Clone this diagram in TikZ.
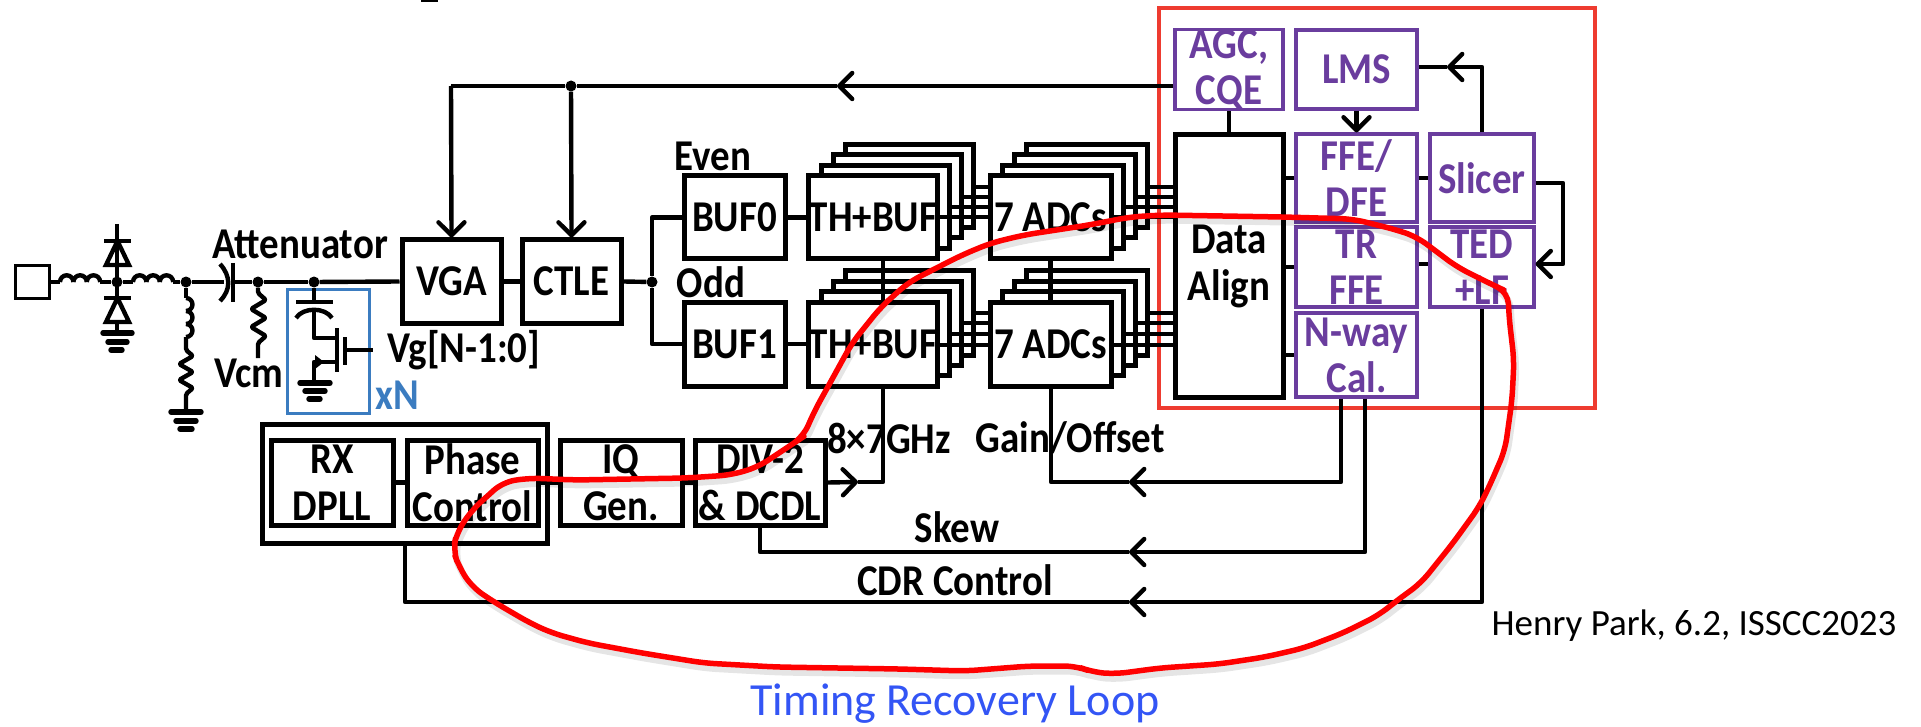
\documentclass[tikz,border=0pt]{standalone}
\usepackage{fontspec}
\setmainfont{Carlito}
\newfontfamily\tallf{Carlito}[FakeStretch=0.885]
\usetikzlibrary{arrows.meta}
\definecolor{pur}{HTML}{6A3D9E}
\definecolor{redbox}{HTML}{EE3B30}
\definecolor{bluebox}{HTML}{3B7CC0}
\definecolor{bluetxt}{HTML}{3355F5}
\tikzset{
  wire/.style={line width=4.4pt,line join=round,draw=black},
  tipped/.style={wire,-{Straight Barb[length=13pt,width=26pt,round]}},
  blk/.style={draw=black,line width=5pt,fill=white,inner sep=0pt,align=center,font=\tallf\fontsize{44}{47}\selectfont\bfseries},
  pbox/.style={draw=pur,line width=3.2pt,fill=white,inner sep=0pt,align=center,text=pur,font=\tallf\fontsize{44}{46}\selectfont\bfseries},
  lbl/.style={inner sep=0pt,align=center,font=\tallf\fontsize{44}{47}\selectfont\bfseries},
  dot/.style={circle,fill=black,inner sep=0pt,minimum size=11pt},
  gnd/.style={line width=5.4pt,line cap=round},
  rloop/.style={draw=red,line width=5.5pt,line join=round,line cap=round,rounded corners=12pt},
  rshadow/.style={draw=black,opacity=0.10,line width=7pt,line join=round,rounded corners=12pt},
}
\newcommand{\blkbox}[5]{\node[blk,minimum width=#3pt,minimum height=#4pt] (#1) at (#2) {#5};}
\newcommand{\stackbox}[6]{% name, cx, cy, w, h, text
  \node[blk,minimum width=#4pt,minimum height=#5pt] (#1c) at ({#2+36},{#3-31}) {};
  \node[blk,minimum width=#4pt,minimum height=#5pt] (#1b) at ({#2+24},{#3-21}) {};
  \node[blk,minimum width=#4pt,minimum height=#5pt] (#1a) at ({#2+12},{#3-10.5}) {};
  \node[blk,minimum width=#4pt,minimum height=#5pt] (#1) at (#2,#3) {#6};
}
\newcommand{\looppath}{(1512,400) -- (1514,360) -- (1509,317) -- (1508,292) -- (1493,285) -- (1457,267) -- (1417,237) -- (1397,230) -- (1353,219) -- (1283,217) -- (1162,215) -- (1130,217) -- (1089,225) -- (1024,235) -- (991,243) -- (962,255) -- (909,282) -- (881,307) -- (852,343) -- (830,383) -- (815,410) -- (803,437) -- (794,443) -- (758,467) -- (731,475) -- (686,478) -- (575,480) -- (530,478) -- (503,482) -- (472,510) -- (457,532) -- (453,550) -- (459,567) -- (472,587) -- (494,602) -- (530,623) -- (552,633) -- (588,643) -- (642,653) -- (704,663) -- (776,667) -- (900,669) -- (965,671) -- (1030,666) -- (1076,666) -- (1092,672) -- (1115,674) -- (1160,668) -- (1219,664) -- (1265,657) -- (1304,648) -- (1343,633) -- (1379,615) -- (1395,602) -- (1421,583) -- (1453,543) -- (1479,507) -- (1489,487) -- (1505,450) -- cycle}
\begin{document}
\begin{tikzpicture}[x=1pt,y=-1pt]
\useasboundingbox (0,0) rectangle (1921,727);
% title fragment
\draw[line width=3pt] (421,0.5) -- (438,0.5);
% red frame
\node[draw=redbox,line width=3.6pt,inner sep=0pt,minimum width=436pt,minimum height=400pt] (dsp) at (1377,208) {};

\node[draw=black,line width=3pt,inner sep=0pt,minimum width=34pt,minimum height=32pt] (pad) at (32,282) {};
\coordinate (dtop) at (117,224);
\node[dot] (n1) at (186,282) {};
\node[dot] (n2) at (258,282) {};
\node[dot] (n3) at (314,282) {};
\node[dot] (n4) at (117,282) {};
\draw[wire] (pad.east) -- (60,282);
\foreach \i in {0,1,2} {\draw[wire] ({60+\i*13.4},282) arc[start angle=180,end angle=0,radius=6.7pt];}
\draw[wire] (100,282) -- (n4);
\draw[wire] (n4) -- (133,282);
\foreach \i in {0,1,2} {\draw[wire] ({133+\i*13.4},282) arc[start angle=180,end angle=0,radius=6.7pt];}
\draw[wire] (173,282) -- (n1);
\draw[wire] (n1) -- (224,282);
% coupling cap
\draw[wire] (220,264) .. controls (231,276) and (231,290) .. (220,301);
\draw[wire] (233,263) -- (233,302);
\draw[wire] (233,282) -- (n2);
\draw[wire] (n2) -- (n3);
\blkbox{vga}{451.5,281.5}{99}{83}{VGA}
\blkbox{ctle}{571.5,281.5}{99}{83}{CTLE}
\draw[wire] (n3) -- (vga.west);
\draw[wire] (vga.east) -- (ctle.west);
% diodes
\draw[wire] (dtop) -- (117,298);
\draw[wire,line join=miter] (106,265) -- (129,265) -- (117.5,241) -- cycle;
\draw[wire] (104,241) -- (131,241);
\draw[wire] (117,282) -- (117,333);
\draw[wire,fill=white,line join=miter] (106,322) -- (129,322) -- (117.5,298) -- cycle;
\draw[wire] (104,298) -- (131,298);
\draw[gnd] (103,333) -- (132,333) (108,342) -- (127,342) (111,350) -- (122,350);
% shunt L and R
\draw[wire] (n1) -- (186,298);
\foreach \i in {0,1,2} {\draw[wire] (186,{298+\i*13}) arc[start angle=90,end angle=-90,radius=6.5pt];}
\draw[wire,rounded corners=1.5pt] (186,337) -- (186,350) -- (193,356) -- (179,364) -- (193,372) -- (179,380) -- (193,388) -- (186,394) -- (186,412);
\draw[gnd] (171,412) -- (201,412) (176,421) -- (196,421) (180,429) -- (192,429);
% Vcm R
\draw[wire,rounded corners=1.5pt] (n2) -- (258,293) -- (266,300) -- (251,309) -- (266,318) -- (251,327) -- (266,336) -- (258,343) -- (258,358);
% blue box
\node[draw=bluebox,line width=3pt,inner sep=0pt,minimum width=82pt,minimum height=124pt] (xn) at (328,351) {};
% varactor and MOS
\draw[wire] (n3) -- (314,302);
\draw[wire] (296,302) -- (333,302);
\draw[wire] (296,318) .. controls (303,307) and (325,307) .. (332,318);
\draw[wire] (314,310) -- (314,338) -- (337,338);
\draw[wire] (337,328) -- (337,372);
\draw[wire] (345,337) -- (345,365);
\coordinate (gate) at (345,350);
\coordinate (vgend) at (373,350);
\draw[wire] (gate) -- (vgend);
\draw[wire] (337,362) -- (314,362) -- (314,383);
\fill (324,362) -- (315,355) -- (315,369) -- cycle;
\draw[gnd] (300,383) -- (330,383) (305,391) -- (325,391) (309,399) -- (320,399);
% labels
\node[lbl] (att) at (300,244) {Attenuator};
\node[lbl] (vcm) at (249,373) {Vcm};
\node[lbl] (vg) at (464,350) {Vg[N-1:0]};
\node[lbl,text=bluebox] (xnl) at (397,395) {xN};

% Even/Odd buffers
\blkbox{buf0}{734.5,217.5}{101}{83}{BUF0}
\blkbox{buf1}{734.5,344}{101}{84}{BUF1}
\node[dot] (j) at (652,282) {};
\draw[wire] (ctle.east) -- (j);
\draw[wire] (buf0.west) -| (j);
\draw[wire] (buf1.west) -| (j);
\node[lbl] (even) at (713,156) {Even};
\node[lbl] (odd) at (711,282) {Odd};

% stacks: back to front
\stackbox{tha}{873}{217.5}{128}{83}{TH+BUF}
\stackbox{thb}{873}{344}{128}{84}{TH+BUF}
\stackbox{adca}{1050.5}{217.5}{121}{83}{7 ADCs}
\stackbox{adcb}{1050.5}{344}{121}{84}{7 ADCs}
\draw[wire] (tha.south) ++(10,0) -- ++(0,43);
\draw[wire] (adca.south) -- ++(0,43);
\draw[wire] (buf0.east) -- (tha.west);
\draw[wire] (buf1.east) -- (thb.west);

% data align
\node[blk,minimum width=108pt,minimum height=262pt] (da) at (1229,266) {};
\node[lbl] (dal) at (1229,266) {Data\\Align};

% parallel wires
\draw[wire] (tha.east |- 0,217) -- (adca.west |- 0,217);
\draw[wire] (thaa.east |- 0,207) -- (adca.west |- 0,207);
\draw[wire] (thab.east |- 0,197) -- (adca.west |- 0,197);
\draw[wire] (thac.east |- 0,187) -- (adca.west |- 0,187);
\draw[wire] (thb.east |- 0,345) -- (adcb.west |- 0,345);
\draw[wire] (thba.east |- 0,334) -- (adcb.west |- 0,334);
\draw[wire] (thbb.east |- 0,323) -- (adcb.west |- 0,323);
\draw[wire] (thbc.east |- 0,313) -- (adcb.west |- 0,313);
\draw[wire] (adca.east |- 0,217) -- (da.west |- 0,217);
\draw[wire] (adcaa.east |- 0,207) -- (da.west |- 0,207);
\draw[wire] (adcab.east |- 0,197) -- (da.west |- 0,197);
\draw[wire] (adcac.east |- 0,187) -- (da.west |- 0,187);
\draw[wire] (adcb.east |- 0,345) -- (da.west |- 0,345);
\draw[wire] (adcba.east |- 0,334) -- (da.west |- 0,334);
\draw[wire] (adcbb.east |- 0,323) -- (da.west |- 0,323);
\draw[wire] (adcbc.east |- 0,313) -- (da.west |- 0,313);

% purple blocks
\node[pbox,minimum width=108pt,minimum height=79pt] (agc) at (1229,69.5) {AGC,\\CQE};
\node[pbox,minimum width=121pt,minimum height=79pt] (lms) at (1356.5,69.5) {LMS};
\node[pbox,minimum width=121pt,minimum height=88pt] (ffe) at (1356.5,178) {FFE/\\DFE};
\node[pbox,minimum width=121pt,minimum height=80pt] (tr) at (1356.5,267) {TR\\FFE};
\node[pbox,minimum width=121pt,minimum height=84pt] (nw) at (1356.5,355) {N-way\\Cal.};
\node[pbox,minimum width=104pt,minimum height=88pt] (sl) at (1482,178) {Slicer};
\node[pbox,minimum width=104pt,minimum height=80pt] (ted) at (1482,267) {TED\\+LF};

\draw[wire] (agc.south) -- (da.north);
\draw[tipped] (lms.south) -- (ffe.north);
\draw[wire] (da.east |- ffe.west) -- (ffe.west);
\draw[wire] (da.east |- tr.west) -- (tr.west);
\draw[wire] (da.east |- nw.west) -- (nw.west);
\draw[wire] (ffe.east) -- (sl.west);
\draw[wire] (tr.east |- 0,264) -- (ted.west |- 0,264);
% slicer up to LMS
\coordinate (slm) at (1447,67);
\draw[tipped] (sl.north) -- (sl.north |- slm) -- (slm);
\draw[wire] (slm) -- (lms.east |- slm);
% slicer to TED
\coordinate (sr) at (1563,183);
\coordinate (tr2) at (1563,264);
\draw[tipped] (sl.east |- sr) -- (sr) -- (tr2) -- (ted.east |- tr2);
% top feedback
\coordinate (tf) at (451,86);
\node[dot] (tfj) at (571,86) {};
\coordinate (tfm) at (837,86);
\draw[tipped] (agc.west |- tfm) -- (tfm);
\draw[wire] (tfm) -- (tfj) -- (tf);
\draw[tipped] (tf) -- (vga.north);
\draw[tipped] (tfj) -- (ctle.north);

% clock row
\node[draw=black,line width=5pt,inner sep=0pt,minimum width=285pt,minimum height=119pt] (pll) at (404.5,483.5) {};
\blkbox{rx}{332,482.5}{122}{85}{RX\\DPLL}
\blkbox{ph}{472.5,482.5}{131}{85}{Phase\\Control}
\blkbox{iq}{621,482.5}{122}{85}{IQ\\Gen.}
\blkbox{div}{760,482.5}{130}{85}{DIV-2\\\& DCDL}
\draw[wire] (rx.east) -- (ph.west);
\draw[wire] (ph.east) -- (iq.west);
\draw[wire] (iq.east) -- (div.west);
\coordinate (ck) at (883,482);
\coordinate (ckm) at (858,482);
\draw[tipped] (div.east) -- (ckm);
\draw[wire] (ckm) -- (ck) -- (thb.south -| ck);
% gain/offset
\coordinate (gb) at (1051,482);
\coordinate (gm) at (1129,482);
\coordinate (gr) at (1341,482);
\draw[tipped] (nw.south -| gr) -- (gr) -- (gm);
\draw[wire] (gm) -- (gb) -- (adcb.south -| gb);
% skew
\coordinate (sb) at (760,552);
\coordinate (sm) at (1129,552);
\coordinate (srr) at (1365,552);
\draw[tipped] (nw.south -| srr) -- (srr) -- (sm);
\draw[wire] (sm) -- (sb) -- (div.south);
% CDR
\coordinate (cb) at (405,602);
\coordinate (cm) at (1129,602);
\coordinate (crr) at (1482,602);
\draw[tipped] (ted.south) -- (crr) -- (cm);
\draw[wire] (cm) -- (cb) -- (pll.south -| cb);
% labels
\node[lbl] (f7) at (889,438) {8×7GHz};
\node[lbl] (go) at (1070,438) {Gain/Offset};
\node[lbl] (skew) at (957,527) {Skew};
\node[lbl] (cdr) at (955,580) {CDR Control};

% red loop
\begin{scope}[shift={(2,5)}]
\draw[rshadow] \looppath;
\end{scope}
\draw[rloop] \looppath;

% captions
\node[inner sep=0pt,font=\fontsize{46}{50}\selectfont,text=bluetxt] (cap) at (955,704) {Timing Recovery Loop};
\node[inner sep=0pt,font=\fontsize{37}{40}\selectfont] (src) at (1694,626) {Henry Park, 6.2, ISSCC2023};
\end{tikzpicture}
\end{document}
